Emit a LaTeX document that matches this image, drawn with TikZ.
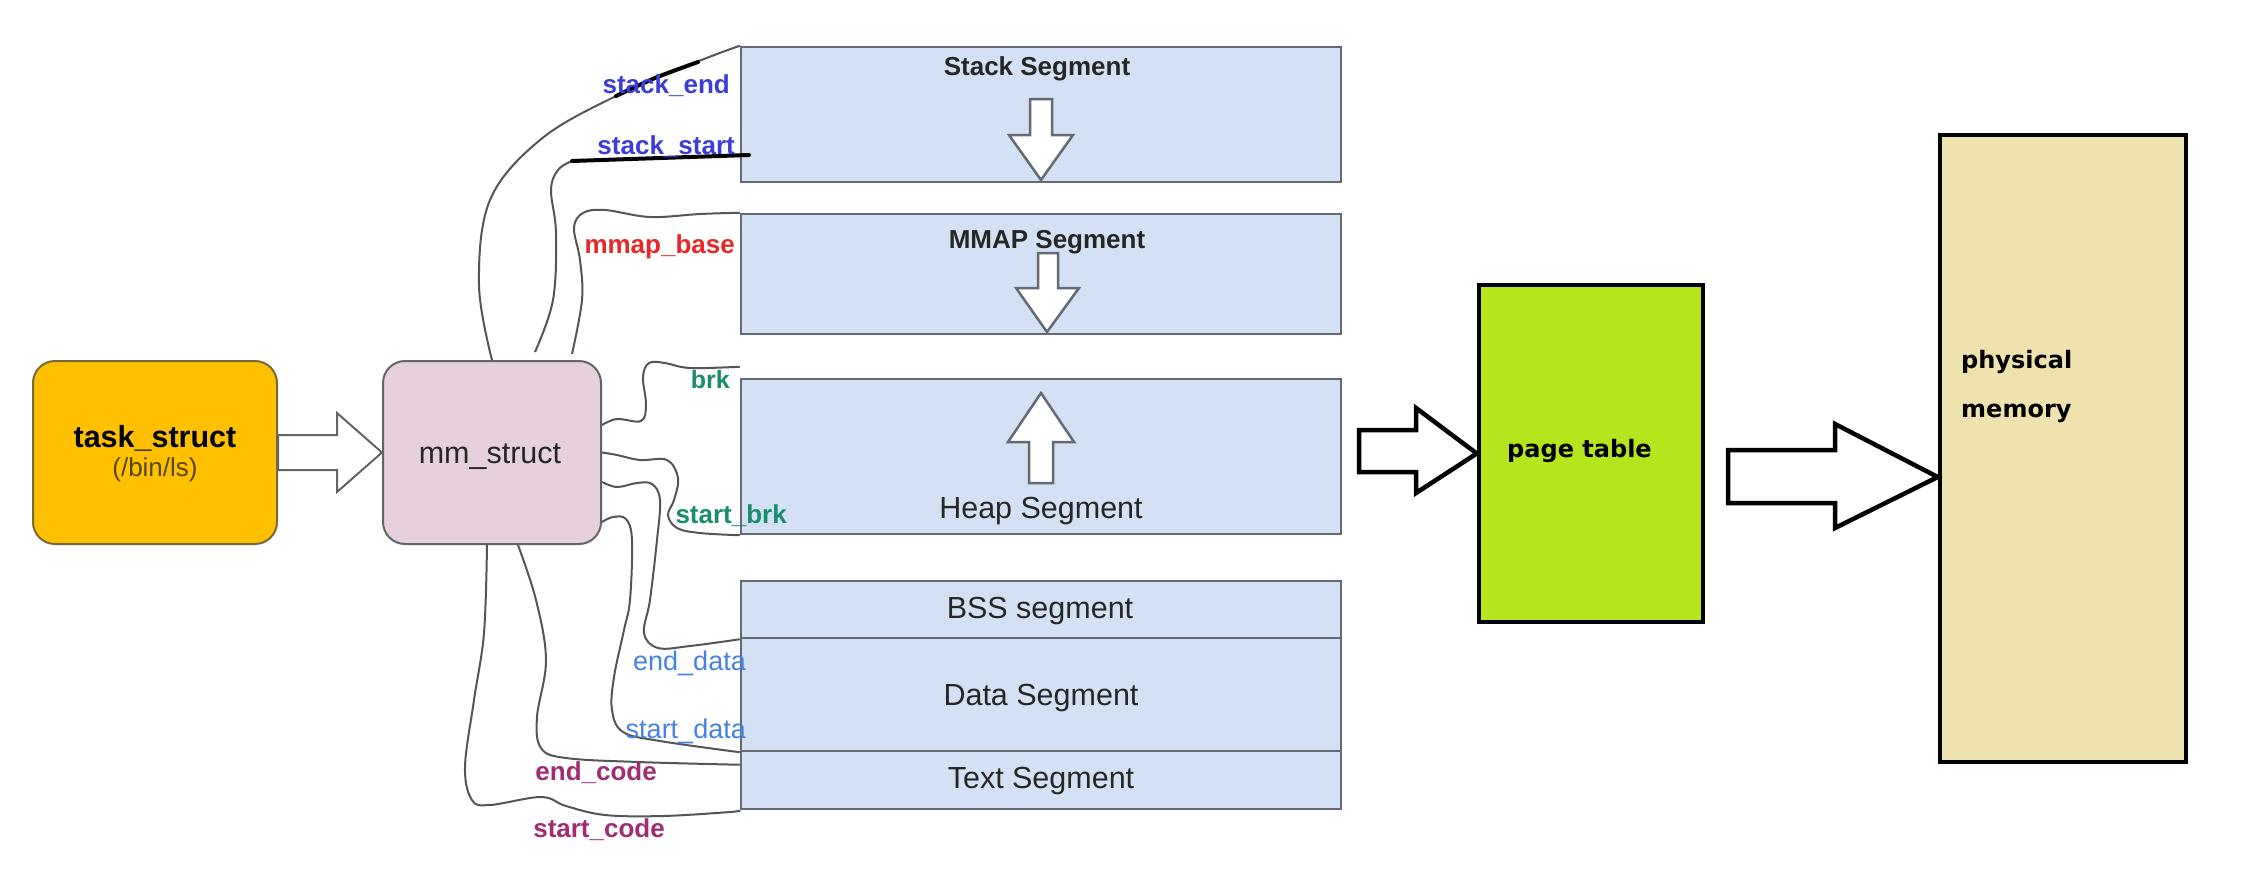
\documentclass[tikz,border=0pt]{standalone}
\usepackage{fontspec}
\setmainfont{Liberation Sans}
\newfontfamily\vfont{DejaVu Sans}
\definecolor{segfill}{RGB}{212,225,244}
\definecolor{segline}{RGB}{100,106,115}
\definecolor{taskfill}{RGB}{255,192,0}
\definecolor{taskline}{RGB}{120,105,60}
\definecolor{mmfill}{RGB}{230,208,222}
\definecolor{mmline}{RGB}{100,100,100}
\definecolor{ptfill}{RGB}{181,230,29}
\definecolor{physfill}{RGB}{238,227,175}
\definecolor{lblblue}{RGB}{60,60,215}
\definecolor{lblred}{RGB}{232,40,40}
\definecolor{lblteal}{RGB}{25,140,110}
\definecolor{lbldata}{RGB}{70,130,225}
\definecolor{lblcode}{RGB}{160,45,115}
\definecolor{wire}{RGB}{85,85,85}
\definecolor{bintext}{RGB}{90,70,20}
\tikzset{
  seg/.style={rectangle, draw=segline, fill=segfill, line width=2.5pt, inner sep=0pt, minimum width=600pt},
  roundbox/.style={rectangle, rounded corners=22pt, line width=2pt, inner sep=0pt, minimum width=#1},
  blackbox/.style={rectangle, draw=black, line width=4.5pt, inner sep=0pt},
  wireline/.style={draw=wire, line width=2pt},
  marker/.style={draw=black, line width=4pt, line cap=round},
  bigarrow/.style={draw=black, fill=white, line width=4.5pt, line join=miter},
  smallarrow/.style={draw=segline, fill=white, line width=2.5pt, line join=miter},
  taskarrow/.style={draw=mmline, fill=white, line width=2pt, line join=miter},
  lab/.style={font=\bfseries\fontsize{26}{30}\selectfont, inner sep=0pt, anchor=base east},
  datalab/.style={font=\fontsize{27}{30}\selectfont, inner sep=0pt, anchor=base east, text=lbldata},
  segbold/.style={font=\bfseries\fontsize{26}{30}\selectfont, inner sep=0pt, anchor=base},
  segreg/.style={font=\fontsize{30.5}{34}\selectfont, inner sep=0pt, anchor=base},
  vtext/.style={font=\vfont\bfseries\fontsize{24}{28}\selectfont, inner sep=0pt, anchor=base west}
}
\begin{document}
\begin{tikzpicture}[x=1pt,y=-1pt]
\useasboundingbox (0,0) rectangle (2256,886);
% boxes
\node[roundbox=244pt, draw=taskline, fill=taskfill, minimum height=183pt] (task) at (155,452.5) {};
\node[roundbox=218pt, draw=mmline, fill=mmfill, minimum height=218pt, minimum height=183pt] (mm) at (492,452.5) {};
\node[seg, minimum height=135pt] (stack) at (1041,114.5) {};
\node[seg, minimum height=120pt] (mmap) at (1041,274) {};
\node[seg, minimum height=155pt] (heap) at (1041,456.5) {};
\node[seg, minimum height=57pt] (bss) at (1041,609.5) {};
\node[seg, minimum height=113pt] (data) at (1041,694.5) {};
\node[seg, minimum height=58pt] (text) at (1041,780) {};
\node[blackbox, fill=ptfill, minimum width=224pt, minimum height=337pt] (pt) at (1591,453.5) {};
\node[blackbox, fill=physfill, minimum width=246pt, minimum height=627pt] (phys) at (2063,448.5) {};

% connectors from mm_struct
\draw[wireline] plot[smooth, tension=0.6] coordinates {(mm.north) (479,285) (490,200) (540,140) (612,98) (694,63) (stack.north west)};
\coordinate (sstA) at (572,161);
\coordinate (sst) at (749,155);
\draw[wireline] plot[smooth, tension=0.6] coordinates {([xshift=43pt,yshift=8pt]mm.north) (553,300) (556,233) (551,190) (558,170) (sstA)};
\draw[wireline] plot[smooth, tension=0.6] coordinates {([xshift=80pt,yshift=6pt]mm.north) (582,300) (580,260) (574,228) (583,213) (605,210) (650,217) (700,214) (mmap.north west)};
\draw[wireline] plot[smooth, tension=0.6] coordinates {([yshift=27.5pt]mm.east) (617,419) (641,421) (646,405) (643,377) (649,363) (665,363) (690,368) ([yshift=11pt]heap.north west)};
\draw[wireline] plot[smooth, tension=0.6] coordinates {(mm.east) (617,455) (640,460) (667,460) (678,478) (674,500) (668,515) (677,528) (700,533) (heap.south west)};
\draw[wireline] plot[smooth, tension=0.6] coordinates {([yshift=-29.5pt]mm.east) (617,487) (637,483) (652,484) (660,500) (657,540) (650,600) (644,633) (658,648) (690,646) (bss.south west)};
\draw[wireline] plot[smooth, tension=0.6] coordinates {([yshift=-69.5pt]mm.east) (613,517) (626,519) (632,540) (630,600) (624,630) (614,677) (612,710) (623,732) (660,741) (data.south west)};
\draw[wireline] plot[smooth, tension=0.6] coordinates {([xshift=26pt]mm.south) (536,600) (546,660) (537,717) (541,748) (566,758) (638,762) ([yshift=-15pt]text.north west)};
\draw[wireline] plot[smooth, tension=0.6] coordinates {([xshift=-5pt]mm.south) (484,633) (474,700) (465,767) (472,800) (490,805) (541,797) (566,806) (605,815) (663,816) (730,812) (text.south west)};
% hand-drawn black marks
\draw[marker] plot[smooth] coordinates {(616,96) (655,78) (698,62)};
\draw[marker] (sstA) -- (sst);

% big arrows
\draw[taskarrow] (task.east |- 0,435) -- (337,435) -- (337,413) -- (mm.west) -- (337,492) -- (337,470) -- (task.east |- 0,470) -- cycle;
\draw[bigarrow] (1359,430) -- (1416,430) -- (1416,408) -- (pt.west) -- (1416,493) -- (1416,472) -- (1359,472) -- cycle;
\draw[bigarrow] (1728,450) -- (1835,450) -- (1835,424) -- (phys.west |- 0,477) -- (1835,528) -- (1835,503) -- (1728,503) -- cycle;

% arrows inside segments
\draw[smallarrow] (1030,99) -- (1052,99) -- (1052,135) -- (1073,135) -- (1041,180) -- (1009,135) -- (1030,135) -- cycle;
\draw[smallarrow] (1038,253) -- (1058,253) -- (1058,288) -- (1079,288) -- (1047,332) -- (1016,288) -- (1038,288) -- cycle;
\draw[smallarrow] (1041,393) -- (1074,442) -- (1053,442) -- (1053,483) -- (1029,483) -- (1029,442) -- (1008,442) -- cycle;

% texts in boxes
\node[font=\bfseries\fontsize{30.5}{34}\selectfont, inner sep=0pt, anchor=base] (taskT) at (155,447) {task\_struct};
\node[font=\fontsize{26}{30}\selectfont, inner sep=0pt, anchor=base, text=bintext] (taskS) at (155,476) {(/bin/ls)};
\node[segreg, text=black!85] (mmT) at (490,463) {mm\_struct};
\node[segbold, text=black!85] (stackT) at (1037,75) {Stack Segment};
\node[segbold, text=black!85] (mmapT) at (1047,248) {MMAP Segment};
\node[segreg, text=black!85] (heapT) at (1041,518) {Heap Segment};
\node[segreg, text=black!85] (bssT) at (1040,618) {BSS segment};
\node[segreg, text=black!85] (dataT) at (1041,705) {Data Segment};
\node[segreg, text=black!85] (textT) at (1041,788) {Text Segment};
\node[vtext] (ptT) at (1507,457) {page table};
\node[vtext] (physT) at (1961,368) {physical};
\node[vtext] (memT) at (1961,417) {memory};

% labels
\node[lab, text=lblblue] (lse) at (730,93) {stack\_end};
\node[lab, text=lblblue] (lss) at (735,154) {stack\_start};
\node[lab, text=lblred] (lmb) at (735,253) {mmap\_base};
\node[lab, text=lblteal, font=\bfseries\fontsize{25}{30}\selectfont] (lbrk) at (730,388) {brk};
\node[lab, text=lblteal, font=\bfseries\fontsize{26}{30}\selectfont] (lsbrk) at (787,523) {start\_brk};
\node[datalab] (led) at (746,670) {end\_data};
\node[datalab] (lsd) at (746,738) {start\_data};
\node[lab, text=lblcode] (lec) at (657,780) {end\_code};
\node[lab, text=lblcode] (lsc) at (665,837) {start\_code};
\end{tikzpicture}
\end{document}
